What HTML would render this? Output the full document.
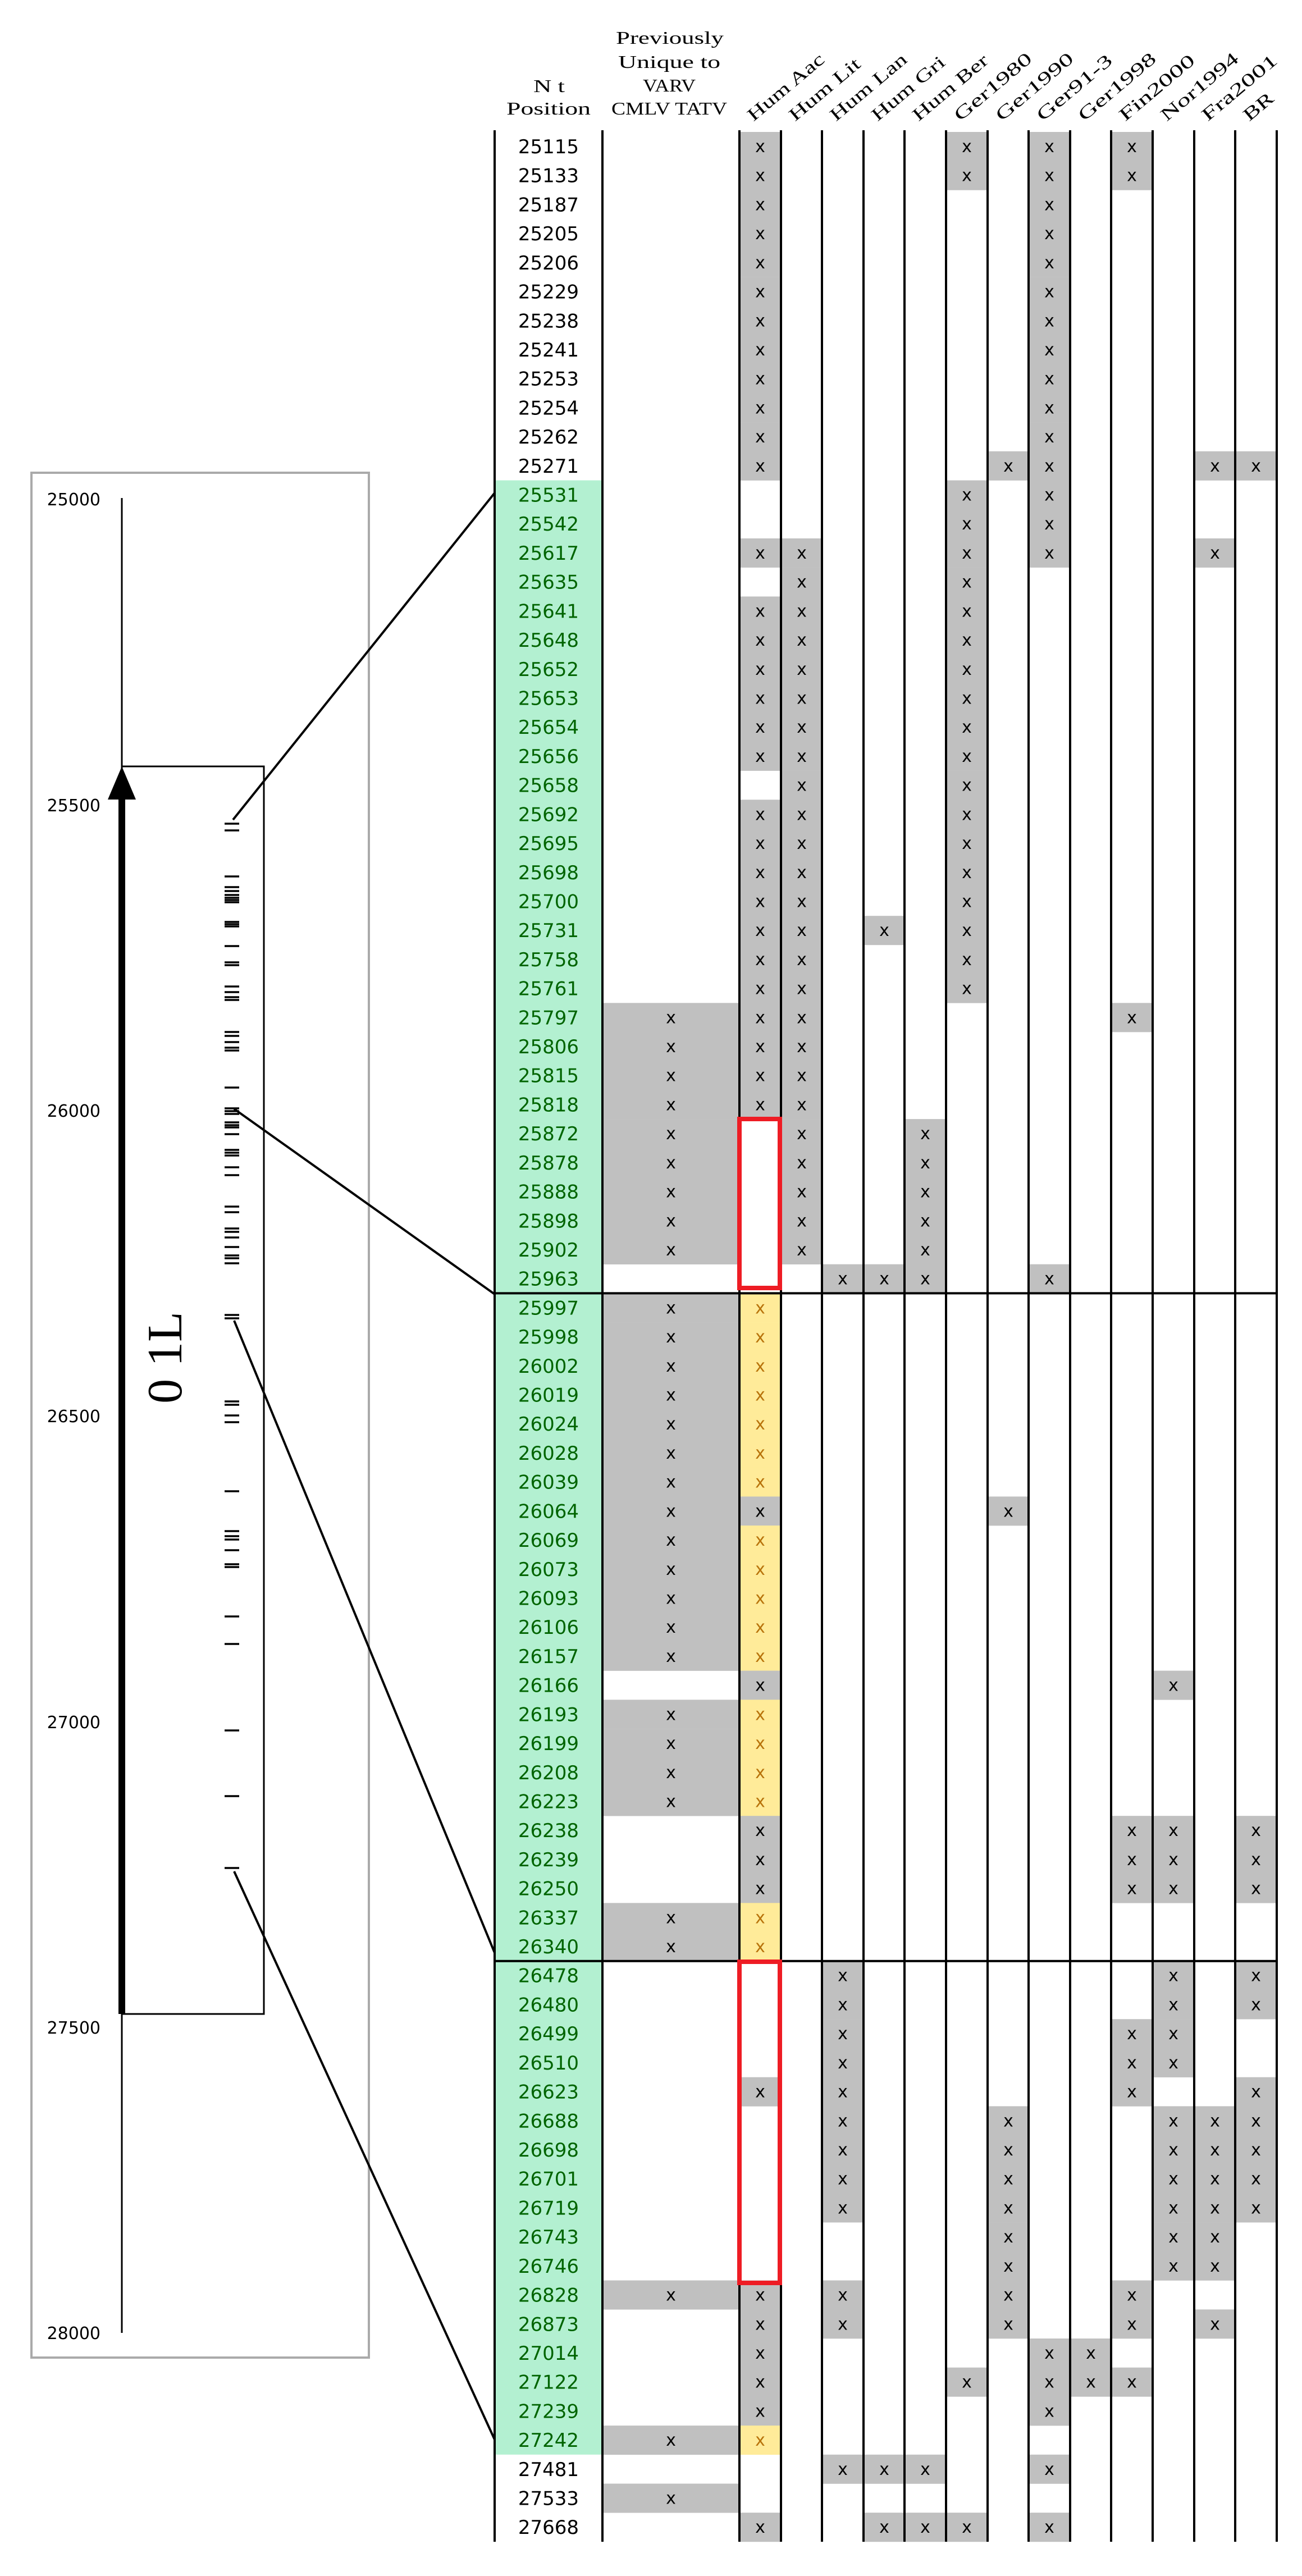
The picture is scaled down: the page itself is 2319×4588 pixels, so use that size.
<!DOCTYPE html>
<html><head><meta charset="utf-8"><style>
html,body{margin:0;padding:0;background:#fff}
svg{display:block}
.g{fill:#c0c0c0}.y{fill:#ffeb99}
.x{font-family:"DejaVu Sans","Liberation Sans",sans-serif;font-size:30px;text-anchor:middle;fill:#000}
.xy{font-family:"DejaVu Sans","Liberation Sans",sans-serif;font-size:30px;text-anchor:middle;fill:#b8730b}
.n{font-family:"DejaVu Sans","Liberation Sans",sans-serif;font-size:34px;text-anchor:middle;fill:#000}
.ng{font-family:"DejaVu Sans","Liberation Sans",sans-serif;font-size:34px;text-anchor:middle;fill:#006400}
.h{font-family:"Liberation Serif",serif;font-size:32px;fill:#000}
.ax{font-family:"DejaVu Sans","Liberation Sans",sans-serif;font-size:30px;text-anchor:end;fill:#000}
</style></head><body>
<svg width="2319" height="4588" viewBox="0 0 2319 4588" xmlns="http://www.w3.org/2000/svg">
<!-- headers -->
<text class="h" x="950" y="164" textLength="56" lengthAdjust="spacingAndGlyphs">N t</text>
<text class="h" x="902" y="204" textLength="150" lengthAdjust="spacingAndGlyphs">Position</text>
<text class="h" x="1097" y="78" textLength="192" lengthAdjust="spacingAndGlyphs">Previously</text>
<text class="h" x="1101" y="121" textLength="182" lengthAdjust="spacingAndGlyphs">Unique to</text>
<text class="h" x="1145" y="163" textLength="94" lengthAdjust="spacingAndGlyphs">VARV</text>
<text class="h" x="1089" y="204" textLength="206" lengthAdjust="spacingAndGlyphs">CMLV TATV</text>
<g class="h">
<text transform="translate(1342,217) rotate(-40)" textLength="168" lengthAdjust="spacingAndGlyphs">Hum Aac</text>
<text transform="translate(1416,217) rotate(-40)" textLength="155" lengthAdjust="spacingAndGlyphs">Hum Lit</text>
<text transform="translate(1489,217) rotate(-40)" textLength="168" lengthAdjust="spacingAndGlyphs">Hum Lan</text>
<text transform="translate(1563,217) rotate(-40)" textLength="160" lengthAdjust="spacingAndGlyphs">Hum Gri</text>
<text transform="translate(1636,217) rotate(-40)" textLength="165" lengthAdjust="spacingAndGlyphs">Hum Ber</text>
<text transform="translate(1710,217) rotate(-40)" textLength="170" lengthAdjust="spacingAndGlyphs">Ger1980</text>
<text transform="translate(1784,217) rotate(-40)" textLength="170" lengthAdjust="spacingAndGlyphs">Ger1990</text>
<text transform="translate(1857,217) rotate(-40)" textLength="165" lengthAdjust="spacingAndGlyphs">Ger91-3</text>
<text transform="translate(1931,217) rotate(-40)" textLength="170" lengthAdjust="spacingAndGlyphs">Ger1998</text>
<text transform="translate(2004,217) rotate(-40)" textLength="165" lengthAdjust="spacingAndGlyphs">Fin2000</text>
<text transform="translate(2078,217) rotate(-40)" textLength="170" lengthAdjust="spacingAndGlyphs">Nor1994</text>
<text transform="translate(2151,217) rotate(-40)" textLength="165" lengthAdjust="spacingAndGlyphs">Fra2001</text>
<text transform="translate(2225,217) rotate(-40)" textLength="60" lengthAdjust="spacingAndGlyphs">BR</text>
</g>
<!-- green -->
<rect x="881" y="855.5" width="192" height="3516.3" fill="#b3f0d1"/>
<!-- rows -->
<g transform="translate(0,235)"><rect class="g" x="1317" width="74" height="52"/><rect class="g" x="1685" width="74" height="52"/><rect class="g" x="1832" width="74" height="52"/><rect class="g" x="1979" width="74" height="52"/><text class="n" x="977" y="38">25115</text><text class="x" x="1354" y="36">x</text><text class="x" x="1722" y="36">x</text><text class="x" x="1869" y="36">x</text><text class="x" x="2016" y="36">x</text></g>
<g transform="translate(0,286.7)"><rect class="g" x="1317" width="74" height="52"/><rect class="g" x="1685" width="74" height="52"/><rect class="g" x="1832" width="74" height="52"/><rect class="g" x="1979" width="74" height="52"/><text class="n" x="977" y="38">25133</text><text class="x" x="1354" y="36">x</text><text class="x" x="1722" y="36">x</text><text class="x" x="1869" y="36">x</text><text class="x" x="2016" y="36">x</text></g>
<g transform="translate(0,338.4)"><rect class="g" x="1317" width="74" height="52"/><rect class="g" x="1832" width="74" height="52"/><text class="n" x="977" y="38">25187</text><text class="x" x="1354" y="36">x</text><text class="x" x="1869" y="36">x</text></g>
<g transform="translate(0,390.1)"><rect class="g" x="1317" width="74" height="52"/><rect class="g" x="1832" width="74" height="52"/><text class="n" x="977" y="38">25205</text><text class="x" x="1354" y="36">x</text><text class="x" x="1869" y="36">x</text></g>
<g transform="translate(0,441.8)"><rect class="g" x="1317" width="74" height="52"/><rect class="g" x="1832" width="74" height="52"/><text class="n" x="977" y="38">25206</text><text class="x" x="1354" y="36">x</text><text class="x" x="1869" y="36">x</text></g>
<g transform="translate(0,493.6)"><rect class="g" x="1317" width="74" height="52"/><rect class="g" x="1832" width="74" height="52"/><text class="n" x="977" y="38">25229</text><text class="x" x="1354" y="36">x</text><text class="x" x="1869" y="36">x</text></g>
<g transform="translate(0,545.3)"><rect class="g" x="1317" width="74" height="52"/><rect class="g" x="1832" width="74" height="52"/><text class="n" x="977" y="38">25238</text><text class="x" x="1354" y="36">x</text><text class="x" x="1869" y="36">x</text></g>
<g transform="translate(0,597)"><rect class="g" x="1317" width="74" height="52"/><rect class="g" x="1832" width="74" height="52"/><text class="n" x="977" y="38">25241</text><text class="x" x="1354" y="36">x</text><text class="x" x="1869" y="36">x</text></g>
<g transform="translate(0,648.7)"><rect class="g" x="1317" width="74" height="52"/><rect class="g" x="1832" width="74" height="52"/><text class="n" x="977" y="38">25253</text><text class="x" x="1354" y="36">x</text><text class="x" x="1869" y="36">x</text></g>
<g transform="translate(0,700.4)"><rect class="g" x="1317" width="74" height="52"/><rect class="g" x="1832" width="74" height="52"/><text class="n" x="977" y="38">25254</text><text class="x" x="1354" y="36">x</text><text class="x" x="1869" y="36">x</text></g>
<g transform="translate(0,752.1)"><rect class="g" x="1317" width="74" height="52"/><rect class="g" x="1832" width="74" height="52"/><text class="n" x="977" y="38">25262</text><text class="x" x="1354" y="36">x</text><text class="x" x="1869" y="36">x</text></g>
<g transform="translate(0,803.8)"><rect class="g" x="1317" width="74" height="52"/><rect class="g" x="1759" width="74" height="52"/><rect class="g" x="1832" width="74" height="52"/><rect class="g" x="2127" width="74" height="52"/><rect class="g" x="2200" width="74" height="52"/><text class="n" x="977" y="38">25271</text><text class="x" x="1354" y="36">x</text><text class="x" x="1796" y="36">x</text><text class="x" x="1869" y="36">x</text><text class="x" x="2164" y="36">x</text><text class="x" x="2237" y="36">x</text></g>
<g transform="translate(0,855.5)"><rect class="g" x="1685" width="74" height="52"/><rect class="g" x="1832" width="74" height="52"/><text class="ng" x="977" y="38">25531</text><text class="x" x="1722" y="36">x</text><text class="x" x="1869" y="36">x</text></g>
<g transform="translate(0,907.2)"><rect class="g" x="1685" width="74" height="52"/><rect class="g" x="1832" width="74" height="52"/><text class="ng" x="977" y="38">25542</text><text class="x" x="1722" y="36">x</text><text class="x" x="1869" y="36">x</text></g>
<g transform="translate(0,958.9)"><rect class="g" x="1317" width="74" height="52"/><rect class="g" x="1391" width="74" height="52"/><rect class="g" x="1685" width="74" height="52"/><rect class="g" x="1832" width="74" height="52"/><rect class="g" x="2127" width="74" height="52"/><text class="ng" x="977" y="38">25617</text><text class="x" x="1354" y="36">x</text><text class="x" x="1428" y="36">x</text><text class="x" x="1722" y="36">x</text><text class="x" x="1869" y="36">x</text><text class="x" x="2164" y="36">x</text></g>
<g transform="translate(0,1010.7)"><rect class="g" x="1391" width="74" height="52"/><rect class="g" x="1685" width="74" height="52"/><text class="ng" x="977" y="38">25635</text><text class="x" x="1428" y="36">x</text><text class="x" x="1722" y="36">x</text></g>
<g transform="translate(0,1062.4)"><rect class="g" x="1317" width="74" height="52"/><rect class="g" x="1391" width="74" height="52"/><rect class="g" x="1685" width="74" height="52"/><text class="ng" x="977" y="38">25641</text><text class="x" x="1354" y="36">x</text><text class="x" x="1428" y="36">x</text><text class="x" x="1722" y="36">x</text></g>
<g transform="translate(0,1114.1)"><rect class="g" x="1317" width="74" height="52"/><rect class="g" x="1391" width="74" height="52"/><rect class="g" x="1685" width="74" height="52"/><text class="ng" x="977" y="38">25648</text><text class="x" x="1354" y="36">x</text><text class="x" x="1428" y="36">x</text><text class="x" x="1722" y="36">x</text></g>
<g transform="translate(0,1165.8)"><rect class="g" x="1317" width="74" height="52"/><rect class="g" x="1391" width="74" height="52"/><rect class="g" x="1685" width="74" height="52"/><text class="ng" x="977" y="38">25652</text><text class="x" x="1354" y="36">x</text><text class="x" x="1428" y="36">x</text><text class="x" x="1722" y="36">x</text></g>
<g transform="translate(0,1217.5)"><rect class="g" x="1317" width="74" height="52"/><rect class="g" x="1391" width="74" height="52"/><rect class="g" x="1685" width="74" height="52"/><text class="ng" x="977" y="38">25653</text><text class="x" x="1354" y="36">x</text><text class="x" x="1428" y="36">x</text><text class="x" x="1722" y="36">x</text></g>
<g transform="translate(0,1269.2)"><rect class="g" x="1317" width="74" height="52"/><rect class="g" x="1391" width="74" height="52"/><rect class="g" x="1685" width="74" height="52"/><text class="ng" x="977" y="38">25654</text><text class="x" x="1354" y="36">x</text><text class="x" x="1428" y="36">x</text><text class="x" x="1722" y="36">x</text></g>
<g transform="translate(0,1320.9)"><rect class="g" x="1317" width="74" height="52"/><rect class="g" x="1391" width="74" height="52"/><rect class="g" x="1685" width="74" height="52"/><text class="ng" x="977" y="38">25656</text><text class="x" x="1354" y="36">x</text><text class="x" x="1428" y="36">x</text><text class="x" x="1722" y="36">x</text></g>
<g transform="translate(0,1372.6)"><rect class="g" x="1391" width="74" height="52"/><rect class="g" x="1685" width="74" height="52"/><text class="ng" x="977" y="38">25658</text><text class="x" x="1428" y="36">x</text><text class="x" x="1722" y="36">x</text></g>
<g transform="translate(0,1424.3)"><rect class="g" x="1317" width="74" height="52"/><rect class="g" x="1391" width="74" height="52"/><rect class="g" x="1685" width="74" height="52"/><text class="ng" x="977" y="38">25692</text><text class="x" x="1354" y="36">x</text><text class="x" x="1428" y="36">x</text><text class="x" x="1722" y="36">x</text></g>
<g transform="translate(0,1476)"><rect class="g" x="1317" width="74" height="52"/><rect class="g" x="1391" width="74" height="52"/><rect class="g" x="1685" width="74" height="52"/><text class="ng" x="977" y="38">25695</text><text class="x" x="1354" y="36">x</text><text class="x" x="1428" y="36">x</text><text class="x" x="1722" y="36">x</text></g>
<g transform="translate(0,1527.8)"><rect class="g" x="1317" width="74" height="52"/><rect class="g" x="1391" width="74" height="52"/><rect class="g" x="1685" width="74" height="52"/><text class="ng" x="977" y="38">25698</text><text class="x" x="1354" y="36">x</text><text class="x" x="1428" y="36">x</text><text class="x" x="1722" y="36">x</text></g>
<g transform="translate(0,1579.5)"><rect class="g" x="1317" width="74" height="52"/><rect class="g" x="1391" width="74" height="52"/><rect class="g" x="1685" width="74" height="52"/><text class="ng" x="977" y="38">25700</text><text class="x" x="1354" y="36">x</text><text class="x" x="1428" y="36">x</text><text class="x" x="1722" y="36">x</text></g>
<g transform="translate(0,1631.2)"><rect class="g" x="1317" width="74" height="52"/><rect class="g" x="1391" width="74" height="52"/><rect class="g" x="1538" width="74" height="52"/><rect class="g" x="1685" width="74" height="52"/><text class="ng" x="977" y="38">25731</text><text class="x" x="1354" y="36">x</text><text class="x" x="1428" y="36">x</text><text class="x" x="1575" y="36">x</text><text class="x" x="1722" y="36">x</text></g>
<g transform="translate(0,1682.9)"><rect class="g" x="1317" width="74" height="52"/><rect class="g" x="1391" width="74" height="52"/><rect class="g" x="1685" width="74" height="52"/><text class="ng" x="977" y="38">25758</text><text class="x" x="1354" y="36">x</text><text class="x" x="1428" y="36">x</text><text class="x" x="1722" y="36">x</text></g>
<g transform="translate(0,1734.6)"><rect class="g" x="1317" width="74" height="52"/><rect class="g" x="1391" width="74" height="52"/><rect class="g" x="1685" width="74" height="52"/><text class="ng" x="977" y="38">25761</text><text class="x" x="1354" y="36">x</text><text class="x" x="1428" y="36">x</text><text class="x" x="1722" y="36">x</text></g>
<g transform="translate(0,1786.3)"><rect class="g" x="1073" width="244" height="52"/><rect class="g" x="1317" width="74" height="52"/><rect class="g" x="1391" width="74" height="52"/><rect class="g" x="1979" width="74" height="52"/><text class="ng" x="977" y="38">25797</text><text class="x" x="1195" y="36">x</text><text class="x" x="1354" y="36">x</text><text class="x" x="1428" y="36">x</text><text class="x" x="2016" y="36">x</text></g>
<g transform="translate(0,1838)"><rect class="g" x="1073" width="244" height="52"/><rect class="g" x="1317" width="74" height="52"/><rect class="g" x="1391" width="74" height="52"/><text class="ng" x="977" y="38">25806</text><text class="x" x="1195" y="36">x</text><text class="x" x="1354" y="36">x</text><text class="x" x="1428" y="36">x</text></g>
<g transform="translate(0,1889.7)"><rect class="g" x="1073" width="244" height="52"/><rect class="g" x="1317" width="74" height="52"/><rect class="g" x="1391" width="74" height="52"/><text class="ng" x="977" y="38">25815</text><text class="x" x="1195" y="36">x</text><text class="x" x="1354" y="36">x</text><text class="x" x="1428" y="36">x</text></g>
<g transform="translate(0,1941.4)"><rect class="g" x="1073" width="244" height="52"/><rect class="g" x="1317" width="74" height="52"/><rect class="g" x="1391" width="74" height="52"/><text class="ng" x="977" y="38">25818</text><text class="x" x="1195" y="36">x</text><text class="x" x="1354" y="36">x</text><text class="x" x="1428" y="36">x</text></g>
<g transform="translate(0,1993.1)"><rect class="g" x="1073" width="244" height="52"/><rect class="g" x="1391" width="74" height="52"/><rect class="g" x="1611" width="74" height="52"/><text class="ng" x="977" y="38">25872</text><text class="x" x="1195" y="36">x</text><text class="x" x="1428" y="36">x</text><text class="x" x="1648" y="36">x</text></g>
<g transform="translate(0,2044.9)"><rect class="g" x="1073" width="244" height="52"/><rect class="g" x="1391" width="74" height="52"/><rect class="g" x="1611" width="74" height="52"/><text class="ng" x="977" y="38">25878</text><text class="x" x="1195" y="36">x</text><text class="x" x="1428" y="36">x</text><text class="x" x="1648" y="36">x</text></g>
<g transform="translate(0,2096.6)"><rect class="g" x="1073" width="244" height="52"/><rect class="g" x="1391" width="74" height="52"/><rect class="g" x="1611" width="74" height="52"/><text class="ng" x="977" y="38">25888</text><text class="x" x="1195" y="36">x</text><text class="x" x="1428" y="36">x</text><text class="x" x="1648" y="36">x</text></g>
<g transform="translate(0,2148.3)"><rect class="g" x="1073" width="244" height="52"/><rect class="g" x="1391" width="74" height="52"/><rect class="g" x="1611" width="74" height="52"/><text class="ng" x="977" y="38">25898</text><text class="x" x="1195" y="36">x</text><text class="x" x="1428" y="36">x</text><text class="x" x="1648" y="36">x</text></g>
<g transform="translate(0,2200)"><rect class="g" x="1073" width="244" height="52"/><rect class="g" x="1391" width="74" height="52"/><rect class="g" x="1611" width="74" height="52"/><text class="ng" x="977" y="38">25902</text><text class="x" x="1195" y="36">x</text><text class="x" x="1428" y="36">x</text><text class="x" x="1648" y="36">x</text></g>
<g transform="translate(0,2251.7)"><rect class="g" x="1464" width="74" height="52"/><rect class="g" x="1538" width="74" height="52"/><rect class="g" x="1611" width="74" height="52"/><rect class="g" x="1832" width="74" height="52"/><text class="ng" x="977" y="38">25963</text><text class="x" x="1501" y="36">x</text><text class="x" x="1575" y="36">x</text><text class="x" x="1648" y="36">x</text><text class="x" x="1869" y="36">x</text></g>
<g transform="translate(0,2303.4)"><rect class="g" x="1073" width="244" height="52"/><rect class="y" x="1317" width="74" height="52"/><text class="ng" x="977" y="38">25997</text><text class="x" x="1195" y="36">x</text><text class="xy" x="1354" y="36">x</text></g>
<g transform="translate(0,2355.1)"><rect class="g" x="1073" width="244" height="52"/><rect class="y" x="1317" width="74" height="52"/><text class="ng" x="977" y="38">25998</text><text class="x" x="1195" y="36">x</text><text class="xy" x="1354" y="36">x</text></g>
<g transform="translate(0,2406.8)"><rect class="g" x="1073" width="244" height="52"/><rect class="y" x="1317" width="74" height="52"/><text class="ng" x="977" y="38">26002</text><text class="x" x="1195" y="36">x</text><text class="xy" x="1354" y="36">x</text></g>
<g transform="translate(0,2458.5)"><rect class="g" x="1073" width="244" height="52"/><rect class="y" x="1317" width="74" height="52"/><text class="ng" x="977" y="38">26019</text><text class="x" x="1195" y="36">x</text><text class="xy" x="1354" y="36">x</text></g>
<g transform="translate(0,2510.2)"><rect class="g" x="1073" width="244" height="52"/><rect class="y" x="1317" width="74" height="52"/><text class="ng" x="977" y="38">26024</text><text class="x" x="1195" y="36">x</text><text class="xy" x="1354" y="36">x</text></g>
<g transform="translate(0,2562)"><rect class="g" x="1073" width="244" height="52"/><rect class="y" x="1317" width="74" height="52"/><text class="ng" x="977" y="38">26028</text><text class="x" x="1195" y="36">x</text><text class="xy" x="1354" y="36">x</text></g>
<g transform="translate(0,2613.7)"><rect class="g" x="1073" width="244" height="52"/><rect class="y" x="1317" width="74" height="52"/><text class="ng" x="977" y="38">26039</text><text class="x" x="1195" y="36">x</text><text class="xy" x="1354" y="36">x</text></g>
<g transform="translate(0,2665.4)"><rect class="g" x="1073" width="244" height="52"/><rect class="g" x="1317" width="74" height="52"/><rect class="g" x="1759" width="74" height="52"/><text class="ng" x="977" y="38">26064</text><text class="x" x="1195" y="36">x</text><text class="x" x="1354" y="36">x</text><text class="x" x="1796" y="36">x</text></g>
<g transform="translate(0,2717.1)"><rect class="g" x="1073" width="244" height="52"/><rect class="y" x="1317" width="74" height="52"/><text class="ng" x="977" y="38">26069</text><text class="x" x="1195" y="36">x</text><text class="xy" x="1354" y="36">x</text></g>
<g transform="translate(0,2768.8)"><rect class="g" x="1073" width="244" height="52"/><rect class="y" x="1317" width="74" height="52"/><text class="ng" x="977" y="38">26073</text><text class="x" x="1195" y="36">x</text><text class="xy" x="1354" y="36">x</text></g>
<g transform="translate(0,2820.5)"><rect class="g" x="1073" width="244" height="52"/><rect class="y" x="1317" width="74" height="52"/><text class="ng" x="977" y="38">26093</text><text class="x" x="1195" y="36">x</text><text class="xy" x="1354" y="36">x</text></g>
<g transform="translate(0,2872.2)"><rect class="g" x="1073" width="244" height="52"/><rect class="y" x="1317" width="74" height="52"/><text class="ng" x="977" y="38">26106</text><text class="x" x="1195" y="36">x</text><text class="xy" x="1354" y="36">x</text></g>
<g transform="translate(0,2923.9)"><rect class="g" x="1073" width="244" height="52"/><rect class="y" x="1317" width="74" height="52"/><text class="ng" x="977" y="38">26157</text><text class="x" x="1195" y="36">x</text><text class="xy" x="1354" y="36">x</text></g>
<g transform="translate(0,2975.6)"><rect class="g" x="1317" width="74" height="52"/><rect class="g" x="2053" width="74" height="52"/><text class="ng" x="977" y="38">26166</text><text class="x" x="1354" y="36">x</text><text class="x" x="2090" y="36">x</text></g>
<g transform="translate(0,3027.3)"><rect class="g" x="1073" width="244" height="52"/><rect class="y" x="1317" width="74" height="52"/><text class="ng" x="977" y="38">26193</text><text class="x" x="1195" y="36">x</text><text class="xy" x="1354" y="36">x</text></g>
<g transform="translate(0,3079.1)"><rect class="g" x="1073" width="244" height="52"/><rect class="y" x="1317" width="74" height="52"/><text class="ng" x="977" y="38">26199</text><text class="x" x="1195" y="36">x</text><text class="xy" x="1354" y="36">x</text></g>
<g transform="translate(0,3130.8)"><rect class="g" x="1073" width="244" height="52"/><rect class="y" x="1317" width="74" height="52"/><text class="ng" x="977" y="38">26208</text><text class="x" x="1195" y="36">x</text><text class="xy" x="1354" y="36">x</text></g>
<g transform="translate(0,3182.5)"><rect class="g" x="1073" width="244" height="52"/><rect class="y" x="1317" width="74" height="52"/><text class="ng" x="977" y="38">26223</text><text class="x" x="1195" y="36">x</text><text class="xy" x="1354" y="36">x</text></g>
<g transform="translate(0,3234.2)"><rect class="g" x="1317" width="74" height="52"/><rect class="g" x="1979" width="74" height="52"/><rect class="g" x="2053" width="74" height="52"/><rect class="g" x="2200" width="74" height="52"/><text class="ng" x="977" y="38">26238</text><text class="x" x="1354" y="36">x</text><text class="x" x="2016" y="36">x</text><text class="x" x="2090" y="36">x</text><text class="x" x="2237" y="36">x</text></g>
<g transform="translate(0,3285.9)"><rect class="g" x="1317" width="74" height="52"/><rect class="g" x="1979" width="74" height="52"/><rect class="g" x="2053" width="74" height="52"/><rect class="g" x="2200" width="74" height="52"/><text class="ng" x="977" y="38">26239</text><text class="x" x="1354" y="36">x</text><text class="x" x="2016" y="36">x</text><text class="x" x="2090" y="36">x</text><text class="x" x="2237" y="36">x</text></g>
<g transform="translate(0,3337.6)"><rect class="g" x="1317" width="74" height="52"/><rect class="g" x="1979" width="74" height="52"/><rect class="g" x="2053" width="74" height="52"/><rect class="g" x="2200" width="74" height="52"/><text class="ng" x="977" y="38">26250</text><text class="x" x="1354" y="36">x</text><text class="x" x="2016" y="36">x</text><text class="x" x="2090" y="36">x</text><text class="x" x="2237" y="36">x</text></g>
<g transform="translate(0,3389.3)"><rect class="g" x="1073" width="244" height="52"/><rect class="y" x="1317" width="74" height="52"/><text class="ng" x="977" y="38">26337</text><text class="x" x="1195" y="36">x</text><text class="xy" x="1354" y="36">x</text></g>
<g transform="translate(0,3441)"><rect class="g" x="1073" width="244" height="52"/><rect class="y" x="1317" width="74" height="52"/><text class="ng" x="977" y="38">26340</text><text class="x" x="1195" y="36">x</text><text class="xy" x="1354" y="36">x</text></g>
<g transform="translate(0,3492.7)"><rect class="g" x="1464" width="74" height="52"/><rect class="g" x="2053" width="74" height="52"/><rect class="g" x="2200" width="74" height="52"/><text class="ng" x="977" y="38">26478</text><text class="x" x="1501" y="36">x</text><text class="x" x="2090" y="36">x</text><text class="x" x="2237" y="36">x</text></g>
<g transform="translate(0,3544.4)"><rect class="g" x="1464" width="74" height="52"/><rect class="g" x="2053" width="74" height="52"/><rect class="g" x="2200" width="74" height="52"/><text class="ng" x="977" y="38">26480</text><text class="x" x="1501" y="36">x</text><text class="x" x="2090" y="36">x</text><text class="x" x="2237" y="36">x</text></g>
<g transform="translate(0,3596.2)"><rect class="g" x="1464" width="74" height="52"/><rect class="g" x="1979" width="74" height="52"/><rect class="g" x="2053" width="74" height="52"/><text class="ng" x="977" y="38">26499</text><text class="x" x="1501" y="36">x</text><text class="x" x="2016" y="36">x</text><text class="x" x="2090" y="36">x</text></g>
<g transform="translate(0,3647.9)"><rect class="g" x="1464" width="74" height="52"/><rect class="g" x="1979" width="74" height="52"/><rect class="g" x="2053" width="74" height="52"/><text class="ng" x="977" y="38">26510</text><text class="x" x="1501" y="36">x</text><text class="x" x="2016" y="36">x</text><text class="x" x="2090" y="36">x</text></g>
<g transform="translate(0,3699.6)"><rect class="g" x="1317" width="74" height="52"/><rect class="g" x="1464" width="74" height="52"/><rect class="g" x="1979" width="74" height="52"/><rect class="g" x="2200" width="74" height="52"/><text class="ng" x="977" y="38">26623</text><text class="x" x="1354" y="36">x</text><text class="x" x="1501" y="36">x</text><text class="x" x="2016" y="36">x</text><text class="x" x="2237" y="36">x</text></g>
<g transform="translate(0,3751.3)"><rect class="g" x="1464" width="74" height="52"/><rect class="g" x="1759" width="74" height="52"/><rect class="g" x="2053" width="74" height="52"/><rect class="g" x="2127" width="74" height="52"/><rect class="g" x="2200" width="74" height="52"/><text class="ng" x="977" y="38">26688</text><text class="x" x="1501" y="36">x</text><text class="x" x="1796" y="36">x</text><text class="x" x="2090" y="36">x</text><text class="x" x="2164" y="36">x</text><text class="x" x="2237" y="36">x</text></g>
<g transform="translate(0,3803)"><rect class="g" x="1464" width="74" height="52"/><rect class="g" x="1759" width="74" height="52"/><rect class="g" x="2053" width="74" height="52"/><rect class="g" x="2127" width="74" height="52"/><rect class="g" x="2200" width="74" height="52"/><text class="ng" x="977" y="38">26698</text><text class="x" x="1501" y="36">x</text><text class="x" x="1796" y="36">x</text><text class="x" x="2090" y="36">x</text><text class="x" x="2164" y="36">x</text><text class="x" x="2237" y="36">x</text></g>
<g transform="translate(0,3854.7)"><rect class="g" x="1464" width="74" height="52"/><rect class="g" x="1759" width="74" height="52"/><rect class="g" x="2053" width="74" height="52"/><rect class="g" x="2127" width="74" height="52"/><rect class="g" x="2200" width="74" height="52"/><text class="ng" x="977" y="38">26701</text><text class="x" x="1501" y="36">x</text><text class="x" x="1796" y="36">x</text><text class="x" x="2090" y="36">x</text><text class="x" x="2164" y="36">x</text><text class="x" x="2237" y="36">x</text></g>
<g transform="translate(0,3906.4)"><rect class="g" x="1464" width="74" height="52"/><rect class="g" x="1759" width="74" height="52"/><rect class="g" x="2053" width="74" height="52"/><rect class="g" x="2127" width="74" height="52"/><rect class="g" x="2200" width="74" height="52"/><text class="ng" x="977" y="38">26719</text><text class="x" x="1501" y="36">x</text><text class="x" x="1796" y="36">x</text><text class="x" x="2090" y="36">x</text><text class="x" x="2164" y="36">x</text><text class="x" x="2237" y="36">x</text></g>
<g transform="translate(0,3958.1)"><rect class="g" x="1759" width="74" height="52"/><rect class="g" x="2053" width="74" height="52"/><rect class="g" x="2127" width="74" height="52"/><text class="ng" x="977" y="38">26743</text><text class="x" x="1796" y="36">x</text><text class="x" x="2090" y="36">x</text><text class="x" x="2164" y="36">x</text></g>
<g transform="translate(0,4009.8)"><rect class="g" x="1759" width="74" height="52"/><rect class="g" x="2053" width="74" height="52"/><rect class="g" x="2127" width="74" height="52"/><text class="ng" x="977" y="38">26746</text><text class="x" x="1796" y="36">x</text><text class="x" x="2090" y="36">x</text><text class="x" x="2164" y="36">x</text></g>
<g transform="translate(0,4061.5)"><rect class="g" x="1073" width="244" height="52"/><rect class="g" x="1317" width="74" height="52"/><rect class="g" x="1464" width="74" height="52"/><rect class="g" x="1759" width="74" height="52"/><rect class="g" x="1979" width="74" height="52"/><text class="ng" x="977" y="38">26828</text><text class="x" x="1195" y="36">x</text><text class="x" x="1354" y="36">x</text><text class="x" x="1501" y="36">x</text><text class="x" x="1796" y="36">x</text><text class="x" x="2016" y="36">x</text></g>
<g transform="translate(0,4113.3)"><rect class="g" x="1317" width="74" height="52"/><rect class="g" x="1464" width="74" height="52"/><rect class="g" x="1759" width="74" height="52"/><rect class="g" x="1979" width="74" height="52"/><rect class="g" x="2127" width="74" height="52"/><text class="ng" x="977" y="38">26873</text><text class="x" x="1354" y="36">x</text><text class="x" x="1501" y="36">x</text><text class="x" x="1796" y="36">x</text><text class="x" x="2016" y="36">x</text><text class="x" x="2164" y="36">x</text></g>
<g transform="translate(0,4165)"><rect class="g" x="1317" width="74" height="52"/><rect class="g" x="1832" width="74" height="52"/><rect class="g" x="1906" width="74" height="52"/><text class="ng" x="977" y="38">27014</text><text class="x" x="1354" y="36">x</text><text class="x" x="1869" y="36">x</text><text class="x" x="1943" y="36">x</text></g>
<g transform="translate(0,4216.7)"><rect class="g" x="1317" width="74" height="52"/><rect class="g" x="1685" width="74" height="52"/><rect class="g" x="1832" width="74" height="52"/><rect class="g" x="1906" width="74" height="52"/><rect class="g" x="1979" width="74" height="52"/><text class="ng" x="977" y="38">27122</text><text class="x" x="1354" y="36">x</text><text class="x" x="1722" y="36">x</text><text class="x" x="1869" y="36">x</text><text class="x" x="1943" y="36">x</text><text class="x" x="2016" y="36">x</text></g>
<g transform="translate(0,4268.4)"><rect class="g" x="1317" width="74" height="52"/><rect class="g" x="1832" width="74" height="52"/><text class="ng" x="977" y="38">27239</text><text class="x" x="1354" y="36">x</text><text class="x" x="1869" y="36">x</text></g>
<g transform="translate(0,4320.1)"><rect class="g" x="1073" width="244" height="52"/><rect class="y" x="1317" width="74" height="52"/><text class="ng" x="977" y="38">27242</text><text class="x" x="1195" y="36">x</text><text class="xy" x="1354" y="36">x</text></g>
<g transform="translate(0,4371.8)"><rect class="g" x="1464" width="74" height="52"/><rect class="g" x="1538" width="74" height="52"/><rect class="g" x="1611" width="74" height="52"/><rect class="g" x="1832" width="74" height="52"/><text class="n" x="977" y="38">27481</text><text class="x" x="1501" y="36">x</text><text class="x" x="1575" y="36">x</text><text class="x" x="1648" y="36">x</text><text class="x" x="1869" y="36">x</text></g>
<g transform="translate(0,4423.5)"><rect class="g" x="1073" width="244" height="52"/><text class="n" x="977" y="38">27533</text><text class="x" x="1195" y="36">x</text></g>
<g transform="translate(0,4475.2)"><rect class="g" x="1317" width="74" height="52"/><rect class="g" x="1538" width="74" height="52"/><rect class="g" x="1611" width="74" height="52"/><rect class="g" x="1685" width="74" height="52"/><rect class="g" x="1832" width="74" height="52"/><text class="n" x="977" y="38">27668</text><text class="x" x="1354" y="36">x</text><text class="x" x="1575" y="36">x</text><text class="x" x="1648" y="36">x</text><text class="x" x="1722" y="36">x</text><text class="x" x="1869" y="36">x</text></g>
<!-- grid lines -->
<g stroke="#000" stroke-width="4">
<line x1="881" y1="232" x2="881" y2="4527"/><line x1="1073" y1="232" x2="1073" y2="4527"/>
<line x1="1317" y1="232" x2="1317" y2="4527"/><line x1="1391" y1="232" x2="1391" y2="4527"/>
<line x1="1464" y1="232" x2="1464" y2="4527"/><line x1="1538" y1="232" x2="1538" y2="4527"/>
<line x1="1611" y1="232" x2="1611" y2="4527"/><line x1="1685" y1="232" x2="1685" y2="4527"/>
<line x1="1759" y1="232" x2="1759" y2="4527"/><line x1="1832" y1="232" x2="1832" y2="4527"/>
<line x1="1906" y1="232" x2="1906" y2="4527"/><line x1="1979" y1="232" x2="1979" y2="4527"/>
<line x1="2053" y1="232" x2="2053" y2="4527"/><line x1="2127" y1="232" x2="2127" y2="4527"/>
<line x1="2200" y1="232" x2="2200" y2="4527"/><line x1="2274" y1="232" x2="2274" y2="4527"/>
<line x1="881" y1="2303.4" x2="2274" y2="2303.4"/><line x1="881" y1="3492.7" x2="2274" y2="3492.7"/>
</g>
<rect x="1317" y="1993" width="72" height="301" fill="none" stroke="#ee1c24" stroke-width="8"/>
<rect x="1317" y="3494" width="72" height="572" fill="none" stroke="#ee1c24" stroke-width="8"/>
<!-- left panel -->
<rect x="56" y="842" width="601" height="3357" fill="none" stroke="#aaa" stroke-width="4"/>
<g class="ax">
<text x="179" y="900">25000</text><text x="179" y="1445">25500</text><text x="179" y="1989">26000</text>
<text x="179" y="2533">26500</text><text x="179" y="3078">27000</text><text x="179" y="3622">27500</text><text x="179" y="4166">28000</text>
</g>
<line x1="217" y1="887" x2="217" y2="4155" stroke="#000" stroke-width="3"/>
<line x1="217" y1="1420" x2="217" y2="3587" stroke="#000" stroke-width="12"/>
<polygon points="217,1365 192,1424 242,1424" fill="#000"/>
<rect x="217" y="1365" width="253" height="2222" fill="none" stroke="#000" stroke-width="3"/>
<text transform="translate(323,2418) rotate(-90)" text-anchor="middle" font-family="Liberation Serif,serif" font-size="88">0 1L</text>
<g stroke="#000" stroke-width="3.5">
<line x1="400" x2="426" y1="1467" y2="1467"/><line x1="400" x2="426" y1="1479" y2="1479"/><line x1="400" x2="426" y1="1561" y2="1561"/><line x1="400" x2="426" y1="1580" y2="1580"/><line x1="400" x2="426" y1="1587" y2="1587"/><line x1="400" x2="426" y1="1594" y2="1594"/><line x1="400" x2="426" y1="1599" y2="1599"/><line x1="400" x2="426" y1="1603" y2="1603"/><line x1="400" x2="426" y1="1607" y2="1607"/><line x1="400" x2="426" y1="1642" y2="1642"/><line x1="400" x2="426" y1="1646" y2="1646"/><line x1="400" x2="426" y1="1650" y2="1650"/><line x1="400" x2="426" y1="1685" y2="1685"/><line x1="400" x2="426" y1="1714" y2="1714"/><line x1="400" x2="426" y1="1719" y2="1719"/><line x1="400" x2="426" y1="1757" y2="1757"/><line x1="400" x2="426" y1="1767" y2="1767"/><line x1="400" x2="426" y1="1776" y2="1776"/><line x1="400" x2="426" y1="1781" y2="1781"/><line x1="400" x2="426" y1="1838" y2="1838"/><line x1="400" x2="426" y1="1845" y2="1845"/><line x1="400" x2="426" y1="1856" y2="1856"/><line x1="400" x2="426" y1="1866" y2="1866"/><line x1="400" x2="426" y1="1871" y2="1871"/><line x1="400" x2="426" y1="1937" y2="1937"/><line x1="400" x2="426" y1="1974" y2="1974"/><line x1="400" x2="426" y1="1979" y2="1979"/><line x1="400" x2="426" y1="1984" y2="1984"/><line x1="400" x2="426" y1="1999" y2="1999"/><line x1="400" x2="426" y1="2004" y2="2004"/><line x1="400" x2="426" y1="2008" y2="2008"/><line x1="400" x2="426" y1="2020" y2="2020"/><line x1="400" x2="426" y1="2048" y2="2048"/><line x1="400" x2="426" y1="2053" y2="2053"/><line x1="400" x2="426" y1="2058" y2="2058"/><line x1="400" x2="426" y1="2079" y2="2079"/><line x1="400" x2="426" y1="2093" y2="2093"/><line x1="400" x2="426" y1="2149" y2="2149"/><line x1="400" x2="426" y1="2159" y2="2159"/><line x1="400" x2="426" y1="2188" y2="2188"/><line x1="400" x2="426" y1="2194" y2="2194"/><line x1="400" x2="426" y1="2204" y2="2204"/><line x1="400" x2="426" y1="2221" y2="2221"/><line x1="400" x2="426" y1="2236" y2="2236"/><line x1="400" x2="426" y1="2241" y2="2241"/><line x1="400" x2="426" y1="2250" y2="2250"/><line x1="400" x2="426" y1="2342" y2="2342"/><line x1="400" x2="426" y1="2348" y2="2348"/><line x1="400" x2="426" y1="2496" y2="2496"/><line x1="400" x2="426" y1="2502" y2="2502"/><line x1="400" x2="426" y1="2521" y2="2521"/><line x1="400" x2="426" y1="2533" y2="2533"/><line x1="400" x2="426" y1="2656" y2="2656"/><line x1="400" x2="426" y1="2727" y2="2727"/><line x1="400" x2="426" y1="2736" y2="2736"/><line x1="400" x2="426" y1="2742" y2="2742"/><line x1="400" x2="426" y1="2761" y2="2761"/><line x1="400" x2="426" y1="2786" y2="2786"/><line x1="400" x2="426" y1="2791" y2="2791"/><line x1="400" x2="426" y1="2879" y2="2879"/><line x1="400" x2="426" y1="2928" y2="2928"/><line x1="400" x2="426" y1="3082" y2="3082"/><line x1="400" x2="426" y1="3199" y2="3199"/><line x1="400" x2="426" y1="3327" y2="3327"/>
</g>
<g stroke="#000" stroke-width="4">
<line x1="415" y1="1460" x2="881" y2="878"/>
<line x1="417" y1="1975" x2="881" y2="2305"/>
<line x1="417" y1="2352" x2="881" y2="3478"/>
<line x1="417" y1="3333" x2="881" y2="4345"/>
</g>
</svg>
</body></html>
